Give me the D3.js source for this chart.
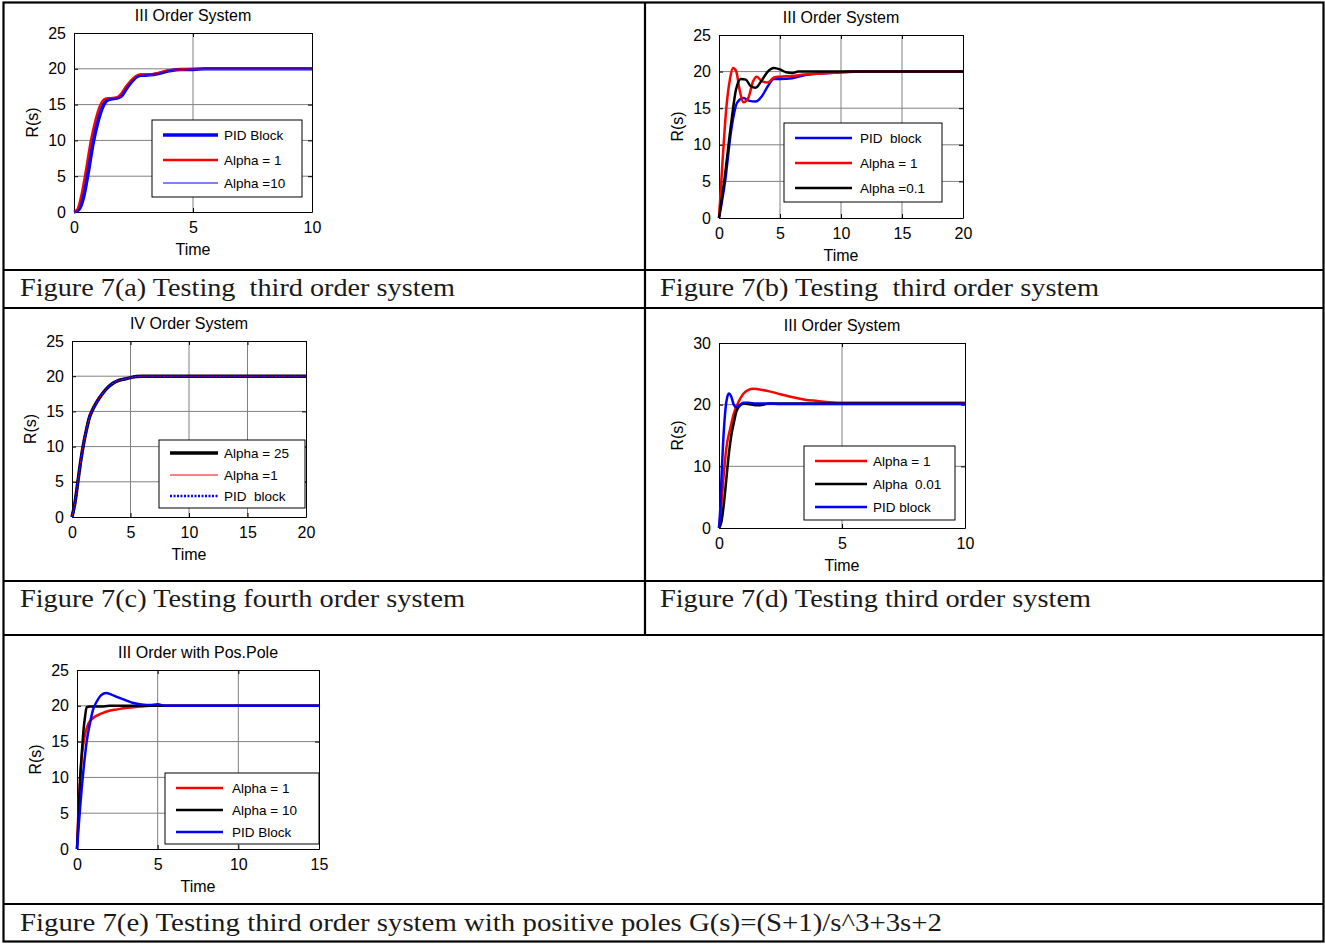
<!DOCTYPE html>
<html>
<head>
<meta charset="utf-8">
<script src="https://cdn.jsdelivr.net/npm/d3@7"></script>
<style>
  body { margin: 0; background: #fff; }
  svg text { white-space: pre; }
</style>
</head>
<body>
<svg id="page" width="1325" height="944"></svg>
<script>
// ---- data: [time, R(s)] ----
// Fig 7(a) third order system
const aPidBlock = [[0,0],[0.2,0.3],[0.4,2],[0.6,5.5],[0.8,9.5],[1.0,12.5],[1.2,14.6],[1.4,15.6],[1.6,15.8],[1.8,15.9],[2.0,16.2],[2.2,17.2],[2.4,18.1],[2.6,18.8],[2.8,19.1],[3.0,19.1],[3.5,19.3],[4.0,19.7],[4.5,19.9],[5.0,19.9],[5.5,20],[10,20]];
const aAlpha1   = [[0,0],[0.15,0.4],[0.3,2.2],[0.5,5.8],[0.7,9.8],[0.9,12.8],[1.1,14.9],[1.3,15.8],[1.5,15.9],[1.8,16],[2.0,16.6],[2.2,17.6],[2.4,18.4],[2.6,19],[2.8,19.2],[3.2,19.2],[3.5,19.4],[4.0,19.8],[4.5,19.9],[5.2,20],[10,20]];
const aAlpha10  = [[0,0],[0.18,0.35],[0.35,2.1],[0.55,5.6],[0.75,9.6],[0.95,12.6],[1.15,14.7],[1.35,15.7],[1.55,15.85],[1.8,15.95],[2.0,16.4],[2.2,17.4],[2.4,18.2],[2.6,18.9],[2.8,19.1],[3.2,19.2],[3.5,19.35],[4.0,19.75],[4.5,19.9],[5.3,20],[10,20]];
// Fig 7(b) third order system
const bPidBlock = [[0,0],[0.5,5],[1,12],[1.5,15.8],[2,16.4],[2.5,16],[3,15.9],[3.5,16.6],[4,18],[4.5,19],[5,19],[6,19.1],[7,19.5],[8,19.7],[9,19.8],[10,19.9],[12,20],[20,20]];
const bAlpha1   = [[0,0],[0.3,8],[0.6,15],[0.9,19],[1.15,20.5],[1.4,20.1],[1.7,17.4],[2.0,15.8],[2.4,16.4],[2.8,18.7],[3.1,19.3],[3.5,18.7],[4,18.5],[4.5,19.2],[5,19.3],[6,19.4],[7,19.6],[8,19.7],[9,19.8],[10,19.9],[11,20],[20,20]];
const bAlpha01  = [[0,0],[0.5,6],[1,13],[1.4,17.6],[1.8,19],[2.2,18.9],[2.6,18],[3,17.8],[3.5,18.8],[4,20],[4.5,20.5],[5,20.3],[5.5,19.9],[6,19.8],[6.5,20],[20,20]];
// Fig 7(c) fourth order system
const cAlpha25  = [[0,0],[0.25,2],[0.5,5],[0.75,8],[1,10.5],[1.25,12.5],[1.5,14.2],[1.75,15.2],[2,16],[2.5,17.3],[3,18.3],[3.5,19],[4,19.4],[4.5,19.6],[5,19.8],[5.5,19.95],[6,20],[20,20]];
const cAlpha1   = [[0,0],[0.25,2],[0.5,5],[0.75,8],[1,10.5],[1.25,12.5],[1.5,14.2],[1.75,15.2],[2,16],[2.5,17.3],[3,18.3],[3.5,19],[4,19.4],[4.5,19.6],[5,19.8],[5.5,19.95],[6,20],[20,20]];
const cPidBlock = [[0,0],[0.25,2],[0.5,5],[0.75,8],[1,10.5],[1.25,12.5],[1.5,14.2],[1.75,15.2],[2,16],[2.5,17.3],[3,18.3],[3.5,19],[4,19.4],[4.5,19.6],[5,19.8],[5.5,19.95],[6,20],[20,20]];
// Fig 7(d) third order system
const dAlpha1   = [[0,0],[0.1,4],[0.2,9],[0.3,13],[0.45,16],[0.6,18.5],[0.8,20.5],[1,21.8],[1.2,22.4],[1.4,22.6],[1.6,22.5],[2,22.2],[2.5,21.7],[3,21.2],[3.5,20.8],[4,20.6],[4.5,20.4],[5,20.3],[10,20.3]];
const dAlpha001 = [[0,0],[0.1,1],[0.2,4],[0.3,8],[0.4,12],[0.5,15],[0.6,17],[0.7,18.8],[0.8,19.6],[1,20.2],[1.2,20.1],[1.5,19.9],[1.8,20],[2,20.2],[10,20.2]];
const dPidBlock = [[0,0],[0.05,3],[0.1,8],[0.2,16],[0.3,20.5],[0.4,21.8],[0.5,21.3],[0.6,20],[0.7,19.6],[0.8,19.8],[1,20.3],[1.2,20.3],[1.5,20.2],[2,20.2],[2.5,20.1],[10,20.1]];
// Fig 7(e) third order system with positive poles
const eAlpha1   = [[0,0],[0.1,6],[0.2,10],[0.3,13],[0.5,16],[0.7,17.5],[1,18.3],[1.5,18.9],[2,19.3],[2.5,19.5],[3,19.7],[3.5,19.8],[4,19.9],[4.5,20],[15,20]];
const eAlpha10  = [[0,0],[0.1,5],[0.2,10],[0.3,13.5],[0.4,16.5],[0.5,18.5],[0.6,19.8],[0.8,19.9],[1.5,19.9],[2,20],[15,20]];
const ePidBlock = [[0,0],[0.1,3],[0.2,6],[0.4,11],[0.6,15],[0.8,17.5],[1,19.5],[1.2,20.5],[1.5,21.5],[1.8,21.8],[2.1,21.6],[2.5,21.2],[3,20.8],[3.5,20.4],[4,20.2],[4.5,20.1],[5,20.2],[5.5,20],[15,20]];

const titles   = ["III Order System", "III Order System", "IV Order System", "III Order System", "III Order with Pos.Pole"];
const captions = ["Figure 7(a) Testing  third order system", "Figure 7(b) Testing  third order system",
                  "Figure 7(c) Testing fourth order system", "Figure 7(d) Testing third order system",
                  "Figure 7(e) Testing third order system with positive poles G(s)=(S+1)/s^3+3s+2"];
const xTicksA = [0, 5, 10], xTicksB = [0, 5, 10, 15, 20], xTicksE = [0, 5, 10, 15];
const yTicks25 = [0, 5, 10, 15, 20, 25], yTicks30 = [0, 10, 20, 30];

const svg = d3.select("#page");
const sans = "Arial, 'Liberation Sans', Helvetica, sans-serif";

// charts: box in pixels, domains, and series (drawn in order)
const charts = [
  { title: titles[0], box: [74, 312, 33, 212], x: [0, 10], y: [0, 25], xt: xTicksA, yt: yTicks25,
    leg: [152, 120, 302, 197], legRows: [135, 160, 183], legX: [163, 218, 224],
    series: [
      { name: "PID Block", data: aPidBlock, color: "#0000ff", w: 3.4 },
      { name: "Alpha = 1", data: aAlpha1, color: "#ff0000", w: 2.4 },
      { name: "Alpha =10", data: aAlpha10, color: "#0000ff", w: 1 }] },
  { title: titles[1], box: [719, 963, 35, 218], x: [0, 20], y: [0, 25], xt: xTicksB, yt: yTicks25,
    leg: [784, 123, 942, 202], legRows: [138, 163, 188], legX: [795, 852, 860],
    series: [
      { name: "PID  block", data: bPidBlock, color: "#0000ff", w: 2.5 },
      { name: "Alpha = 1", data: bAlpha1, color: "#ff0000", w: 2.5 },
      { name: "Alpha =0.1", data: bAlpha01, color: "#000000", w: 2.5 }] },
  { title: titles[2], box: [72, 306, 341, 517], x: [0, 20], y: [0, 25], xt: xTicksB, yt: yTicks25,
    leg: [159, 440, 305, 508], legRows: [453, 475, 496], legX: [170, 218, 224],
    series: [
      { name: "Alpha = 25", data: cAlpha25, color: "#000000", w: 3.4 },
      { name: "Alpha =1", data: cAlpha1, color: "#ff0000", w: 1 },
      { name: "PID  block", data: cPidBlock, color: "#0000ff", w: 2.6, dash: "2,1.5" }] },
  { title: titles[3], box: [719, 965, 343, 528], x: [0, 10], y: [0, 30], xt: xTicksA, yt: yTicks30,
    leg: [804, 446, 955, 520], legRows: [461, 484, 507], legX: [815, 867, 873],
    series: [
      { name: "Alpha = 1", data: dAlpha1, color: "#ff0000", w: 2.5 },
      { name: "Alpha  0.01", data: dAlpha001, color: "#000000", w: 2.5 },
      { name: "PID block", data: dPidBlock, color: "#0000ff", w: 2.5 }] },
  { title: titles[4], box: [77, 319, 670, 849], x: [0, 15], y: [0, 25], xt: xTicksE, yt: yTicks25,
    leg: [165, 773, 319, 844], legRows: [788, 810, 832], legX: [176, 223, 232],
    series: [
      { name: "Alpha = 1", data: eAlpha1, color: "#ff0000", w: 2.5 },
      { name: "Alpha = 10", data: eAlpha10, color: "#000000", w: 2.5 },
      { name: "PID Block", data: ePidBlock, color: "#0000ff", w: 2.5 }] }
];

charts.forEach(drawChart);

function drawChart(c) {
  const [l, r, t, b] = c.box;
  const x = d3.scaleLinear().domain(c.x).range([l, r]);
  const y = d3.scaleLinear().domain(c.y).range([b, t]);
  const g = svg.append("g");

  // grid
  g.append("g").selectAll("line").data(c.xt.slice(1, -1)).join("line")
    .attr("x1", d => x(d)).attr("x2", d => x(d)).attr("y1", t).attr("y2", b)
    .attr("stroke", "#808080").attr("stroke-width", 1);
  g.append("g").selectAll("line").data(c.yt.slice(1, -1)).join("line")
    .attr("y1", d => y(d)).attr("y2", d => y(d)).attr("x1", l).attr("x2", r)
    .attr("stroke", "#808080").attr("stroke-width", 1);

  // axes with inward ticks on all four sides
  const ax = (axis, tr) => g.append("g").attr("transform", tr).call(axis)
    .call(s => s.select(".domain").attr("stroke", "#000"))
    .call(s => s.selectAll("text").attr("font-family", sans).attr("font-size", 16).attr("fill", "#000"));
  ax(d3.axisBottom(x).tickValues(c.xt).tickSizeInner(-4).tickSizeOuter(0).tickPadding(10), `translate(0,${b})`);
  ax(d3.axisTop(x).tickValues(c.xt).tickSizeInner(-4).tickSizeOuter(0).tickFormat(""), `translate(0,${t})`);
  ax(d3.axisLeft(y).tickValues(c.yt).tickSizeInner(-4).tickSizeOuter(0).tickPadding(8), `translate(${l},0)`);
  ax(d3.axisRight(y).tickValues(c.yt).tickSizeInner(-4).tickSizeOuter(0).tickFormat(""), `translate(${r},0)`);

  // curves
  const line = d3.line().x(d => x(d[0])).y(d => y(d[1])).curve(d3.curveMonotoneX);
  c.series.forEach(s => {
    g.append("path").datum(s.data).attr("d", line)
      .attr("fill", "none").attr("stroke", s.color).attr("stroke-width", s.w)
      .attr("stroke-dasharray", s.dash || null).attr("stroke-linejoin", "round");
  });

  // labels
  g.append("text").attr("x", (l + r) / 2).attr("y", t - 12).attr("text-anchor", "middle")
    .attr("font-family", sans).attr("font-size", 16).text(c.title);
  g.append("text").attr("x", (l + r) / 2).attr("y", b + 43).attr("text-anchor", "middle")
    .attr("font-family", sans).attr("font-size", 16).text("Time");
  g.append("text").attr("transform", `translate(${l - 36},${(t + b) / 2}) rotate(-90)`)
    .attr("text-anchor", "middle").attr("font-family", sans).attr("font-size", 16).text("R(s)");

  // legend
  const [lx0, ly0, lx1, ly1] = c.leg;
  g.append("rect").attr("x", lx0).attr("y", ly0).attr("width", lx1 - lx0).attr("height", ly1 - ly0)
    .attr("fill", "#fff").attr("stroke", "#000").attr("stroke-width", 1);
  c.series.forEach((s, i) => {
    const ry = c.legRows[i];
    g.append("line").attr("x1", c.legX[0]).attr("x2", c.legX[1]).attr("y1", ry).attr("y2", ry)
      .attr("stroke", s.color).attr("stroke-width", s.w).attr("stroke-dasharray", s.dash || null);
    g.append("text").attr("x", c.legX[2]).attr("y", ry).attr("dy", "0.35em")
      .attr("font-family", sans).attr("font-size", 13.5).text(s.name);
  });
}

// ---- table frame and captions ----
const frame = svg.append("g").attr("stroke", "#000").attr("stroke-width", 2.2);
const hLines = [270, 308, 581, 635, 904];
frame.append("rect").attr("x", 3.5).attr("y", 2.5).attr("width", 1320).attr("height", 939).attr("fill", "none");
frame.selectAll("line.h").data(hLines).join("line").attr("class", "h")
  .attr("x1", 3.5).attr("x2", 1323.5).attr("y1", d => d).attr("y2", d => d);
frame.append("line").attr("x1", 645).attr("x2", 645).attr("y1", 2.5).attr("y2", 635);

const capPos = [[20, 296, 435], [660, 296, 439], [20, 607, 445], [660, 607, 431], [20, 931, 922]];
svg.append("g").selectAll("text").data(captions).join("text")
  .attr("x", (d, i) => capPos[i][0]).attr("y", (d, i) => capPos[i][1])
  .attr("textLength", (d, i) => capPos[i][2]).attr("lengthAdjust", "spacingAndGlyphs")
  .attr("font-family", "'Liberation Serif', 'Times New Roman', serif").attr("font-size", 25)
  .attr("fill", "#1a1a1a").text(d => d);
</script>
</body>
</html>
